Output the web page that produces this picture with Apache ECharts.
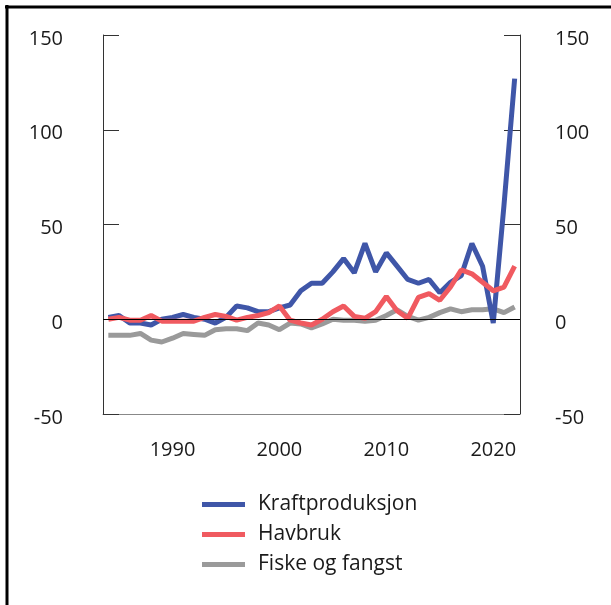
<!DOCTYPE html>
<html>
<head>
<meta charset="utf-8">
<script src="https://cdn.jsdelivr.net/npm/echarts@6/dist/echarts.min.js"></script>
<style>
  html, body { margin: 0; padding: 0; background: #fff; }
  #chart { width: 611px; height: 605px; }
</style>
</head>
<body>
<div id="chart"></div>
<script>
// years on the x axis
var years = [];
for (var y = 1984; y <= 2022; y++) years.push(String(y));

// index values, 1984-2022
var kraftproduksjon = [1, 2, -2, -2, -3, 0, 1, 2.5, 1, 0, -2, 1, 7, 6, 4, 4, 6, 7.5, 15, 19, 19, 25, 32, 24.5, 40, 25, 35, 28, 21, 19, 21, 14, 19.5, 23, 40, 28, -2, 60, 127];
var havbruk = [0, 1, -0.5, -0.5, 2, -1, -1, -1, -1, 1, 2.5, 1.5, -0.5, 1, 2, 3.5, 7, -0.5, -2, -3, 0, 4, 7, 1.5, 0.5, 4, 12, 4.5, 0.5, 11.5, 13.5, 10, 17, 26, 24, 19.5, 15, 17, 28];
var fiske = [-8.5, -8.5, -8.5, -7.5, -11, -12, -10, -7.5, -8, -8.5, -5.5, -5, -5, -6, -2, -3, -5.5, -2, -2.5, -4.5, -2.5, 0, -0.5, -0.5, -1, -0.5, 2, 5, 1.5, -0.5, 1, 3.5, 5.5, 4, 5, 5, 5.5, 3.5, 6.5];

var textColor = "#1a1a1a";
var font = "Open Sans";

var chart = echarts.init(document.getElementById("chart"));

//y axis settings shared by left and right
function yAxisFor(pos, margin) {
  return {
    type: "value",
    position: pos,
    min: -50,
    max: 150,
    interval: 50,
    axisLine: { show: true, lineStyle: { color: "#333", width: 1 } },
    axisTick: { show: true, inside: true, length: 16, lineStyle: { color: "#333", width: 1 } },
    axisLabel: { color: textColor, fontSize: 20, fontFamily: font, margin: margin, verticalAlign: "top", lineHeight: 8 },
    splitLine: { show: false }
  };
}

chart.setOption({
  animation: false,
  grid: { left: 103, right: 91, top: 35, bottom: 191, containLabel: false },
  legend: {
    orient: "vertical",
    left: 202,
    top: 494,
    padding: 0,
    itemWidth: 43,
    itemHeight: 5,
    itemGap: 9,
    icon: "rect",
    textStyle: { color: textColor, fontSize: 21, fontFamily: font, lineHeight: 20, padding: [0, 0, 0, 8] },
    data: ["Kraftproduksjon", "Havbruk", "Fiske og fangst"]
  },
  xAxis: {
    type: "category",
    data: years,
    boundaryGap: true,
    axisLine: { show: true, onZero: false, lineStyle: { color: "#888", width: 1 } },
    axisTick: { show: false },
    axisLabel: {
      color: textColor, fontSize: 20, fontFamily: font, margin: 26,
      interval: function (i, v) { return Number(v) % 10 === 0; }
    }
  },
  yAxis: [yAxisFor("left", 40), yAxisFor("right", 35)],
  graphic: [
    { type: "line", shape: { x1: 5, y1: 7, x2: 611, y2: 7 }, style: { stroke: "#000", lineWidth: 3 } },
    { type: "line", shape: { x1: 7, y1: 5, x2: 7, y2: 605 }, style: { stroke: "#000", lineWidth: 3 } }
  ],
  series: [
    {
      name: "Kraftproduksjon",
      type: "line",
      data: kraftproduksjon,
      symbol: "none",
      z: 3,
      color: "#3f56a8",
      lineStyle: { width: 5, color: "#3f56a8" }
    },
    {
      name: "Havbruk",
      type: "line",
      data: havbruk,
      symbol: "none",
      z: 4,
      color: "#f05a60",
      lineStyle: { width: 5, color: "#f05a60" }
    },
    {
      name: "Fiske og fangst",
      type: "line",
      data: fiske,
      symbol: "none",
      z: 2,
      color: "#9a9a9a",
      lineStyle: { width: 5, color: "#9a9a9a" },
      markLine: {
        silent: true,
        symbol: "none",
        label: { show: false },
        lineStyle: { color: "#000", width: 1, type: "solid" },
        data: [{ yAxis: 0 }]
      }
    }
  ]
});
</script>
</body>
</html>
